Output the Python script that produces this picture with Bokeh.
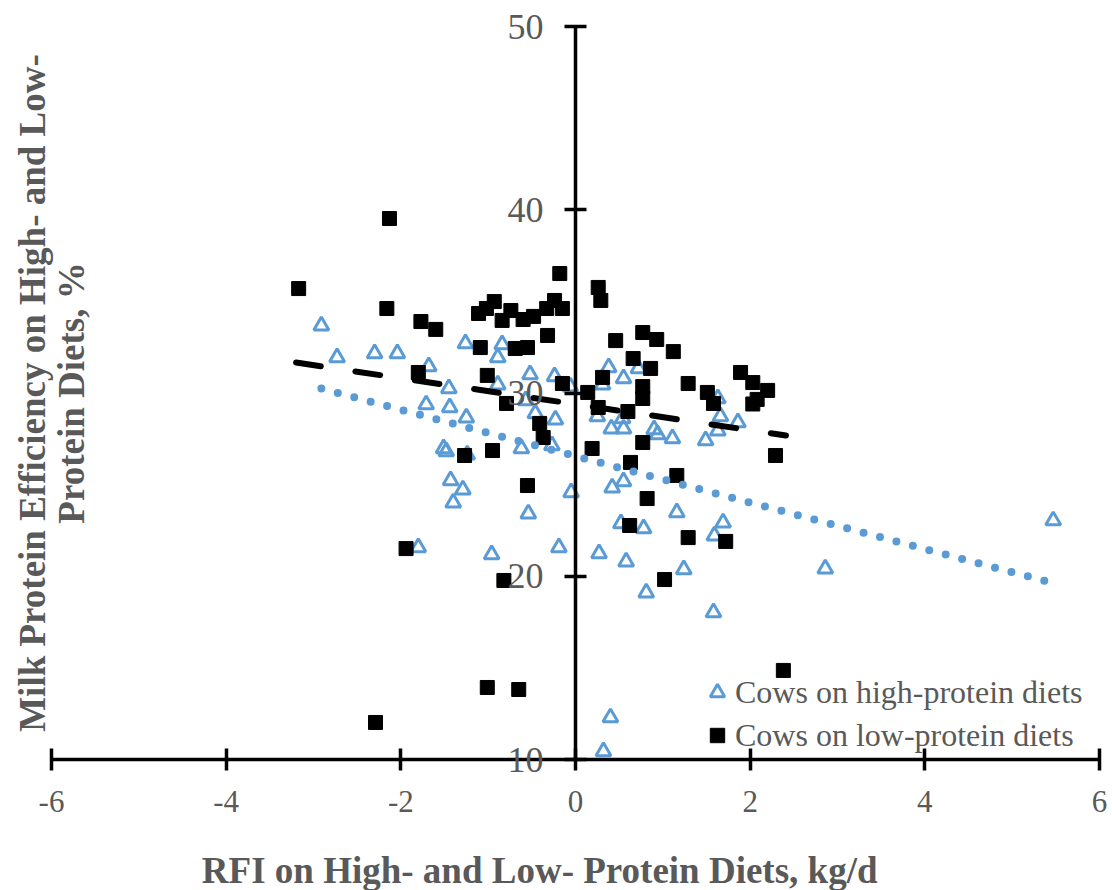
from bokeh.plotting import figure
from bokeh.models import FixedTicker, Label, Legend, LegendItem
from bokeh.embed import file_html
from bokeh.resources import INLINE

# ---- data ----
high_x = [-2.91, -2.73, -2.30, -2.04, -1.68, -1.45, -1.71, -1.44, -1.26, -1.25,
          -0.84, -0.89, -0.89, -0.52, -0.24, -0.06, -0.57, -0.46, -0.23, -1.51,
          -1.48, -1.24, -0.62, -0.27, -1.43, -1.29, -1.40, -0.05, -0.54, -0.96,
          -0.19, -1.80, 0.42, 0.55, 0.52, 0.78, 1.16, 1.69, 1.59, 0.27,
          0.58, 1.24, 0.81, 1.58, 2.86, 5.47, 0.40, 0.32, 0.38, 0.55,
          0.72, 0.31, 0.25, 0.41, 0.55, 0.54, 0.90, 0.94, 1.11, 1.49,
          1.63, 1.66, 1.86, 1.63]
high_y = [33.68, 31.94, 32.16, 32.16, 31.45, 30.25, 29.37, 29.21, 32.70, 28.66,
          32.65, 31.94, 30.46, 31.01, 30.90, 30.35, 29.59, 28.88, 28.55, 26.97,
          26.81, 26.64, 26.97, 27.14, 25.23, 24.73, 24.02, 24.57, 23.42, 21.19,
          21.57, 21.57, 24.84, 25.17, 22.88, 22.61, 23.48, 22.93, 22.22, 21.24,
          20.80, 20.37, 19.11, 18.02, 20.42, 23.04, 12.29, 10.44, 31.39, 30.79,
          31.34, 30.46, 28.72, 28.06, 28.06, 28.61, 28.01, 27.74, 27.52, 27.41,
          27.95, 28.72, 28.39, 29.70]

low_x = [-3.17, -2.13, -2.16, -1.77, -1.60, -1.80, -1.94, -2.29, -1.01, -0.65,
         -0.82, -1.11, -1.02, -0.93, -0.84, -0.74, -0.60, -0.48, -0.33, -0.24,
         -0.15, -0.18, -0.32, -1.09, -0.69, -0.55, -1.01, -0.15, -0.79, -0.41,
         -0.37, -0.95, -1.27, -0.55, 0.26, 0.29, 0.46, 0.77, 0.93, 1.12,
         0.66, 0.86, 0.31, 0.77, 1.29, 0.14, 0.77, 0.26, 0.60, 0.77,
         0.19, 0.63, 1.16, 0.82, 0.62, 1.29, 1.02, 1.72, 2.38, 1.89,
         2.03, 1.51, 1.58, 2.20, 2.08, 2.03, 2.29]
low_y = [35.70, 39.52, 34.61, 33.90, 33.47, 31.12, 21.51, 12.02, 13.93, 13.82,
         19.77, 34.34, 34.61, 34.99, 33.96, 34.50, 34.01, 34.18, 34.61, 35.05,
         34.61, 36.52, 33.14, 32.48, 32.43, 32.48, 30.96, 30.52, 29.43, 28.34,
         27.57, 26.86, 26.59, 24.95, 35.76, 35.05, 32.86, 33.30, 32.92, 32.26,
         31.88, 31.34, 30.85, 30.35, 30.52, 30.03, 29.70, 29.21, 28.99, 27.30,
         26.97, 26.21, 25.50, 24.24, 22.77, 22.11, 19.82, 21.90, 14.86, 31.12,
         30.57, 30.03, 29.43, 30.14, 29.65, 29.40, 26.59]

high_trend_x = [-2.91, 5.38]
high_trend_y = [30.24, 19.74]
low_trend_x = [-3.20, 2.41]
low_trend_y = [31.66, 27.68]

x_ticks = [-6, -4, -2, 0, 2, 4, 6]
x_tick_labels = ["-6", "-4", "-2", "0", "2", "4", "6"]
y_ticks = [10, 20, 30, 40, 50]
y_tick_labels = ["10", "20", "30", "40", "50"]

series_names = ["Cows on high-protein diets", "Cows on low-protein diets"]
x_title = "RFI on High- and Low- Protein Diets, kg/d"
y_title = "Milk Protein Efficiency on High- and Low-\nProtein Diets, %"

BLUE = "#5B9BD5"
GRAY = "#595959"
FONT = "Liberation Serif"

W, H = 1112, 890
PX_X = 87.333   # pixels per x unit
PX_Y = 18.325   # pixels per y unit
x0 = -6 - 51 / PX_X
y0 = 10 - 131 / PX_Y

p = figure(width=W, height=H,
           x_range=(x0, x0 + W / PX_X), y_range=(y0, y0 + H / PX_Y),
           output_backend="svg", toolbar_location=None,
           min_border=0, min_border_left=0, min_border_right=0,
           min_border_top=0, min_border_bottom=0)
p.outline_line_color = None
p.xgrid.visible = False
p.ygrid.visible = False
p.background_fill_color = "white"
p.border_fill_color = "white"

# x axis (crossing at y = 10)
xa = p.xaxis[0]
xa.fixed_location = 10
xa.bounds = (-6, 6)
xa.ticker = FixedTicker(ticks=x_ticks)
xa.major_label_overrides = dict(zip(x_ticks, x_tick_labels))
xa.axis_line_width = 3.5
xa.axis_line_color = "black"
xa.major_tick_line_width = 3.5
xa.major_tick_line_color = "black"
xa.major_tick_in = 11
xa.major_tick_out = 11
xa.minor_tick_line_color = None
xa.major_label_text_font = FONT
xa.major_label_text_font_size = "31px"
xa.major_label_text_color = GRAY
xa.major_label_standoff = 20

# y axis (crossing at x = 0)
ya = p.yaxis[0]
ya.fixed_location = 0
ya.bounds = (10, 50)
ya.ticker = FixedTicker(ticks=y_ticks)
ya.major_label_overrides = dict(zip(y_ticks, y_tick_labels))
ya.axis_line_width = 3.5
ya.axis_line_color = "black"
ya.major_tick_line_width = 3.5
ya.major_tick_line_color = "black"
ya.major_tick_in = 11
ya.major_tick_out = 11
ya.minor_tick_line_color = None
ya.major_label_text_font = FONT
ya.major_label_text_font_size = "36px"
ya.major_label_text_color = GRAY
ya.major_label_standoff = 21

r_high = p.scatter(high_x, high_y, marker="triangle", size=15,
                   fill_color=None, line_color=BLUE, line_width=3)
r_low = p.scatter(low_x, low_y, marker="square", size=14,
                  fill_color="black", line_color="black")
p.line(high_trend_x, high_trend_y, line_color=BLUE, line_width=8,
       line_dash="0 17", line_cap="round")
p.line(low_trend_x, low_trend_y, line_color="black", line_width=6,
       line_dash="25 35", line_cap="round")

legend = Legend(items=[LegendItem(label=series_names[0], renderers=[r_high]),
                       LegendItem(label=series_names[1], renderers=[r_low])],
                location=(699, 136), orientation="vertical",
                label_text_font=FONT, label_text_font_size="32px",
                label_text_color=GRAY, label_height=38, glyph_height=38,
                glyph_width=36, label_standoff=0, spacing=5, padding=0,
                margin=0, border_line_color=None, background_fill_alpha=0)
p.add_layout(legend)

p.add_layout(Label(x=-0.41, y=3.94, text=x_title, text_align="center",
                   text_baseline="middle", text_font=FONT,
                   text_font_size="37px", text_font_style="bold",
                   text_color=GRAY))
p.add_layout(Label(x=-5.99, y=30.0, text=y_title, angle=90,
                   angle_units="deg", text_align="center",
                   text_baseline="middle", text_font=FONT,
                   text_font_size="37px", text_font_style="bold",
                   text_color=GRAY, text_line_height=0.95))

open("out.html", "w").write(file_html(p, INLINE))
